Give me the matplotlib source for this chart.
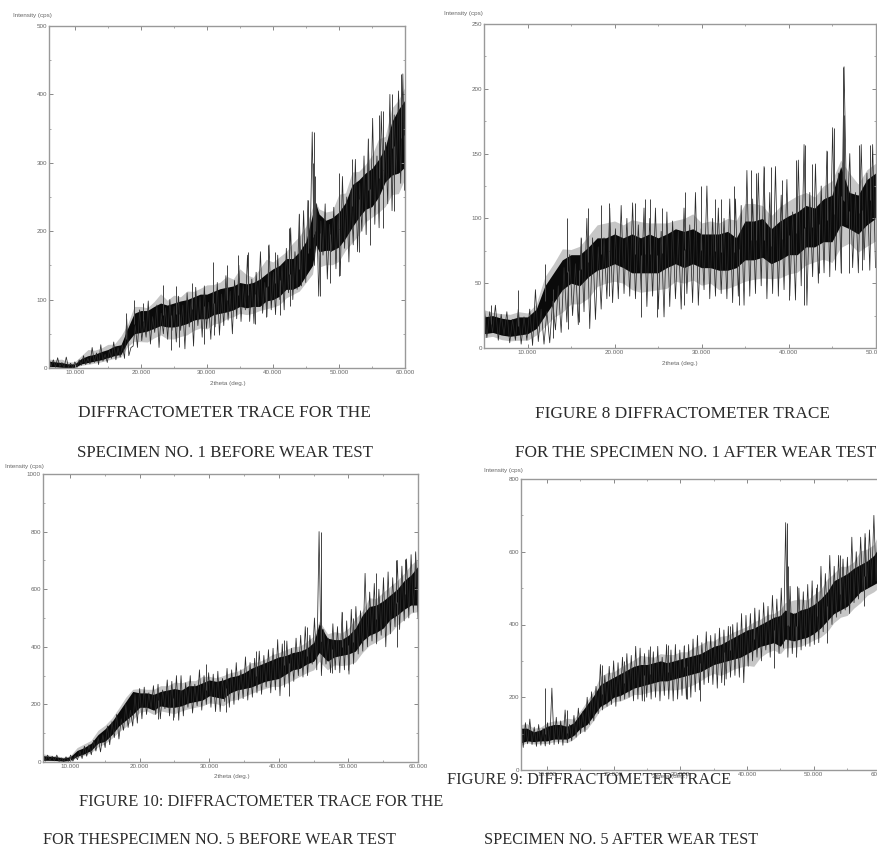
import numpy as np
import matplotlib
matplotlib.use('Agg')
import matplotlib.pyplot as plt
from matplotlib.ticker import MultipleLocator, FormatStrFormatter

W, H = 877, 847

# panel 1: specimen 1 before wear test
p1_x = [6.1,7,8,9,10,11,12,13,14,15,16,17,18,19,20,21,22,23,24,25,26,27,28,29,30,31,32,33,34,35,36,37,38,39,40,41,42,43,44,45,46,46.5,47,48,49,50,51,52,53,54,55,56,57,58,59,60]
p1_elo = [0,0,0,0,0,2,3,4,6,8,10,12,25,28,25,22,30,35,25,25,30,32,40,45,42,50,52,62,65,70,68,70,78,75,78,80,90,100,105,115,125,170,125,130,130,135,155,160,170,195,205,205,200,225,225,260]
p1_clo = [2,2,1,0,1,6,8,10,12,15,18,20,38,50,52,54,58,62,60,60,62,65,70,72,72,78,80,82,85,90,88,90,90,98,100,105,115,115,120,135,150,180,170,172,172,177,190,206,220,232,236,250,272,282,285,294]
p1_chi = [10,9,8,6,6,14,18,20,24,27,32,34,58,80,84,84,90,95,92,95,98,100,104,108,108,112,116,118,120,125,123,125,130,138,145,150,160,160,170,185,225,240,225,216,220,228,242,268,275,285,292,305,322,360,378,392]
p1_ehi = [16,15,18,12,12,22,36,32,34,42,38,60,70,100,96,92,104,122,106,118,110,125,120,125,135,132,135,150,140,165,150,140,160,180,165,175,180,205,215,230,245,245,240,240,240,280,270,305,300,310,330,365,355,400,405,430]
p1_trace = [14,2,12,1,15,2,8,0,16,1,7,0,9,1,12,4,18,5,14,6,30,8,22,5,34,10,20,8,26,14,
            38,12,30,16,34,14,72,18,30,32,62,30,85,40,70,45,98,35,75,52,92,30,80,50,88,42,100,55,90,38,
            105,55,92,28,110,60,100,32,118,62,104,45,120,58,96,42,110,60,125,48,108,62,135,70,112,50,128,72,150,68,
            122,85,165,68,130,65,140,90,170,80,125,75,180,85,140,78,165,100,150,85,175,110,205,100,170,115,225,120,230,125,
            245,175,345,150,240,105,215,165,240,130,210,170,235,145,225,135,280,175,250,155,260,180,305,170,270,200,310,195,335,215,
            365,210,310,205,375,260,330,240,400,230,370,285,405,270,430,260]
p1_spike_x = [17.7,19,20.3,23.4,25.3,27.7,31,33,34.7,36.3,39.3,40.3,42.5,44,45.3,46.1,46.2,46.3,50,52,54.4,56,56.6,58,59.4,24.6,25.8,29.5,31.1,37.3,39,41.1,42.6,47.1,48.6,50,53,54.7,56.6,58.3,59.8]
p1_spike_y = [80,100,95,122,120,125,155,150,165,170,180,170,205,225,245,300,345,280,285,305,335,370,375,400,430,27,30,35,48,65,75,78,90,105,125,135,170,180,205,230,260]

# panel 2: specimen 1 after wear test
p2_x = [5,6,7,8,9,10,11,12,13,14,15,16,17,18,19,20,21,22,23,24,25,26,27,28,29,30,31,32,33,34,35,36,37,38,39,40,41,42,43,44,45,46,47,48,49,50]
p2_elo = [5,6,3,2,2,1,5,8,12,10,18,20,22,35,38,38,38,32,28,30,32,30,38,38,40,35,38,30,32,35,35,38,38,42,40,42,45,50,55,55,50,60,70,60,62,65]
p2_clo = [11,12,10,9,10,11,15,25,35,45,50,48,55,60,62,65,62,58,58,58,58,62,65,62,65,62,62,60,60,62,68,68,70,65,68,72,72,78,78,82,82,95,92,88,95,100]
p2_chi = [24,25,23,22,24,24,30,48,58,68,72,72,78,85,85,88,85,88,85,88,85,88,92,90,92,88,88,88,90,85,98,98,100,92,98,102,105,110,108,115,118,140,120,118,130,135]
p2_ehi = [35,30,30,30,32,30,38,62,72,85,80,85,95,105,108,108,105,110,110,105,108,105,105,110,115,105,108,105,110,112,125,125,120,112,120,125,130,130,125,135,140,150,150,135,145,150]
p2_trace = [35,8,28,12,33,6,26,10,28,4,22,6,30,3,24,6,30,2,45,5,30,3,28,4,36,14,48,12,62,20,
            72,25,65,18,85,28,100,15,85,22,78,30,85,38,108,35,92,38,110,42,100,40,112,38,95,45,108,32,100,40,
            108,30,90,24,105,32,98,38,90,30,108,42,95,35,120,33,92,45,125,38,100,40,108,42,100,38,115,35,115,40,
            110,33,137,40,115,42,135,48,140,38,120,42,140,40,118,45,130,40,105,37,145,48,157,33,120,55,142,50,
            125,58,152,55,170,60,135,58,217,95,150,62,120,58,157,68,135,60,157,62]
p2_spike_x = [5.8,8.9,12,14.5,16.1,17,18.4,19.4,22.4,23.5,24.1,25.5,28.1,29.9,31.5,32.2,33.7,35.7,36.3,37.2,38,39.3,40.9,41.9,42.7,44.4,45.2,46.25,46.3,46.35,48.1,49.4,12.9,14.6,15.9,19.4,23.1,24.9,28,34.3,40,41.8,43.5,46,47,48.4]
p2_spike_y = [33,45,65,100,85,108,110,112,112,115,115,108,120,125,115,115,125,137,135,140,140,130,145,157,142,152,170,180,217,180,157,157,8,15,20,40,24,24,33,33,37,33,58,58,58,60]

# panel 3: specimen 5 before wear test
p3_x = [6.1,7,8,9,10,11,12,13,14,15,16,17,18,19,20,21,22,23,24,25,26,27,28,29,30,31,32,33,34,35,36,37,38,39,40,41,42,43,44,45,45.8,47,48,49,50,51,52,53,54,55,56,57,58,59,60]
p3_elo = [2,2,2,0,0,10,18,25,40,55,70,85,100,130,155,165,150,160,155,145,160,165,170,175,180,180,170,185,185,200,215,225,230,240,235,240,250,270,280,290,320,290,310,300,300,310,340,370,385,400,400,440,460,490,500]
p3_clo = [6,6,5,3,6,20,28,40,65,72,95,125,145,165,190,190,180,195,190,190,195,205,210,215,230,225,220,240,250,255,260,270,280,285,290,305,320,325,340,350,380,350,365,370,375,385,420,440,450,465,495,510,530,545,545]
p3_chi = [22,20,18,14,18,40,50,65,95,115,140,175,210,245,240,240,235,245,250,255,250,265,265,275,285,280,285,295,300,310,325,335,345,355,365,370,380,385,395,415,480,430,425,425,440,465,510,540,545,560,580,600,630,650,680]
p3_ehi = [35,28,25,20,24,60,75,85,125,140,165,200,240,260,270,265,270,285,280,300,300,300,300,320,310,305,315,325,330,345,365,360,370,390,395,410,420,420,440,460,500,460,480,470,490,530,540,600,590,620,640,660,680,720,730]
p3_trace = [28,3,24,5,20,4,24,2,14,1,18,2,24,3,22,8,40,12,55,20,60,25,75,38,85,35,95,50,125,60,
            140,85,165,80,150,110,200,120,180,125,235,135,255,150,260,165,240,185,265,165,270,150,250,185,285,160,280,155,300,145,
            300,160,275,190,300,170,270,195,320,180,300,200,310,190,305,175,315,175,290,210,325,190,320,200,345,215,320,220,365,215,
            345,225,360,240,385,235,370,260,390,240,395,250,425,230,410,260,420,270,395,280,430,300,440,295,470,300,440,340,500,320,
            800,300,460,340,430,310,480,320,470,310,520,320,490,305,530,340,540,375,525,385,655,400,590,420,620,410,600,440,640,400,
            660,445,640,470,700,460,680,490,705,500,720,520,730,500]
p3_spike_x = [22.6,24.8,29.5,32.4,36.7,40.8,41.5,44.1,46,46.05,46.1,47.7,49.1,49.9,50.6,53.9,56.8,57,58.2,59.6]
p3_spike_y = [150,145,340,175,385,425,230,470,700,800,640,310,520,320,500,655,700,400,705,725]

# panel 4: specimen 5 after wear test
p4_x = [6.1,7,8,9,10,11,12,13,14,15,16,17,18,19,20,21,22,23,24,25,26,27,28,29,30,31,32,33,34,35,36,37,38,39,40,41,42,43,44,45,45.7,47,48,49,50,51,52,53,54,55,56,57,58,59,60]
p4_elo = [60,70,65,65,65,70,70,65,75,90,100,125,155,165,175,175,180,190,185,190,195,190,195,190,190,195,205,220,235,240,225,235,250,255,255,240,280,300,310,300,310,320,320,330,340,340,350,380,400,400,420,430,460,470,490]
p4_clo = [75,80,78,80,80,85,85,85,95,115,125,150,175,185,200,205,215,225,230,235,240,245,245,250,255,260,265,270,280,290,295,300,305,310,320,330,340,345,350,340,360,355,360,365,375,390,410,430,440,450,470,490,500,510,520]
p4_chi = [115,115,105,110,120,125,125,120,130,155,180,205,235,245,255,265,275,285,290,290,295,300,295,300,305,310,315,320,330,340,345,355,365,375,385,390,400,410,420,425,440,430,440,445,455,470,490,520,530,540,555,565,575,590,620]
p4_ehi = [135,140,125,125,140,145,145,165,150,170,200,230,280,290,285,300,310,320,340,335,325,340,340,335,345,340,360,370,380,370,390,385,395,400,405,425,430,445,440,460,480,505,500,490,510,520,560,560,590,580,590,640,640,650,700]
p4_trace = [135,62,130,72,140,70,118,65,125,68,115,66,130,70,225,70,145,72,135,68,165,75,125,80,150,90,170,100,160,105,
            200,125,215,135,230,155,290,165,260,175,285,180,300,175,295,190,310,195,320,200,315,190,340,195,335,190,320,200,330,195,
            325,200,340,190,310,205,345,195,330,190,345,195,330,205,340,195,345,200,360,215,370,220,350,235,380,240,370,235,375,225,
            390,240,385,250,395,255,400,260,405,255,430,240,425,285,430,300,445,310,440,300,460,330,450,310,480,340,470,320,500,335,
            680,310,505,320,430,320,500,330,490,340,510,340,520,345,500,350,560,380,540,400,590,400,560,420,590,430,580,440,585,430,
            640,460,600,470,640,490,650,500,660,510,700,520,690,510]
p4_spike_x = [9.7,13,18.3,21.5,25.5,28.1,30.5,37.5,41.1,46,46.05,46.1,46.3,47.5,50.5,54,57.7,59.9,24.5,31,33,36.5,44,47.3,52,57.5]
p4_spike_y = [225,165,290,300,340,345,345,395,430,680,660,560,470,505,510,590,640,700,190,195,190,235,280,310,350,450]

y_tops = [500, 250, 1000, 800]
y_steps = [100, 50, 200, 200]
x_lims = [(6.1, 60), (5, 50), (6.1, 60), (6.1, 60)]
# left, right, top, bottom of each frame in pixels
frames = [(49, 405, 26, 368), (484, 875.5, 24, 348), (43, 418, 474, 762), (521, 880.5, 479, 770)]
ylabel_pos = [(13, 15), (444, 13), (5, 466), (484, 470)]
xlabel_pos = [(228, 384), (680, 363), (232, 776), (670, 776)]

captions = [
    ('DIFFRACTOMETER TRACE FOR THE', 78, 413, 12.5),
    ('SPECIMEN NO. 1 BEFORE WEAR TEST', 77, 453, 12.2),
    ('FIGURE 8 DIFFRACTOMETER TRACE', 535, 414, 12.4),
    ('FOR THE SPECIMEN NO. 1 AFTER WEAR TEST', 515, 453, 12.3),
    ('FIGURE 10: DIFFRACTOMETER TRACE FOR THE', 79, 802, 11.8),
    ('FOR THESPECIMEN NO. 5 BEFORE WEAR TEST', 43, 840, 11.7),
    ('FIGURE 9: DIFFRACTOMETER TRACE', 447, 780, 11.8),
    ('SPECIMEN NO. 5 AFTER WEAR TEST', 484, 840, 11.7),
]

panels = [
    (p1_x, p1_elo, p1_clo, p1_chi, p1_ehi, p1_trace, p1_spike_x, p1_spike_y),
    (p2_x, p2_elo, p2_clo, p2_chi, p2_ehi, p2_trace, p2_spike_x, p2_spike_y),
    (p3_x, p3_elo, p3_clo, p3_chi, p3_ehi, p3_trace, p3_spike_x, p3_spike_y),
    (p4_x, p4_elo, p4_clo, p4_chi, p4_ehi, p4_trace, p4_spike_x, p4_spike_y),
]

plt.rcParams['font.family'] = ['Liberation Sans', 'DejaVu Sans']
fig = plt.figure(figsize=(W / 100, H / 100), dpi=100)

for i, (x, elo, clo, chi, ehi, trace, sx, sy) in enumerate(panels):
    left, right, top, bottom = frames[i]
    ax = fig.add_axes([left / W, 1 - bottom / H, (right - left) / W, (bottom - top) / H])
    elo, clo, chi, ehi = map(np.array, (elo, clo, chi, ehi))
    mid = (clo + chi) / 2
    # soft grey halo, black core, then the scan trace on top
    ax.fill_between(x, (elo + clo) / 2, (chi + ehi) / 2, color='#a0a0a0', alpha=0.6, lw=0)
    ax.fill_between(x, clo, chi, color='#0a0a0a', lw=0)
    ax.plot(np.linspace(x[0], x[-1], len(trace)), trace, color='#2a2a2a', lw=0.55)
    ax.vlines(sx, np.interp(sx, x, mid), sy, color='#444444', lw=0.7)
    ax.set_xlim(x_lims[i])
    ax.set_ylim(0, y_tops[i])
    ax.xaxis.set_major_locator(MultipleLocator(10))
    ax.xaxis.set_minor_locator(MultipleLocator(5))
    ax.yaxis.set_major_locator(MultipleLocator(y_steps[i]))
    ax.yaxis.set_minor_locator(MultipleLocator(y_steps[i] / 2))
    ax.xaxis.set_major_formatter(FormatStrFormatter('%.3f'))
    ax.tick_params(which='major', direction='in', top=True, right=True, length=3, width=0.7,
                   color='#888888', labelcolor='#666666', labelsize=4.5, pad=1.5)
    ax.tick_params(which='minor', direction='in', top=True, right=True, length=1.5, width=0.6, color='#999999')
    for s in ax.spines.values():
        s.set_color('#999999')
        s.set_linewidth(1.0)
    fig.text(ylabel_pos[i][0] / W, 1 - ylabel_pos[i][1] / H, 'Intensity (cps)', fontsize=4.5,
             color='#666666', va='center')
    fig.text(xlabel_pos[i][0] / W, 1 - xlabel_pos[i][1] / H, '2theta (deg.)', fontsize=4.5,
             color='#666666', va='center', ha='center')

for txt, px, py, size in captions:
    fig.text(px / W, 1 - py / H, txt, family='Liberation Serif', fontsize=size, color='#2b2b2b', va='center')

fig.savefig('out.png', dpi=100)
